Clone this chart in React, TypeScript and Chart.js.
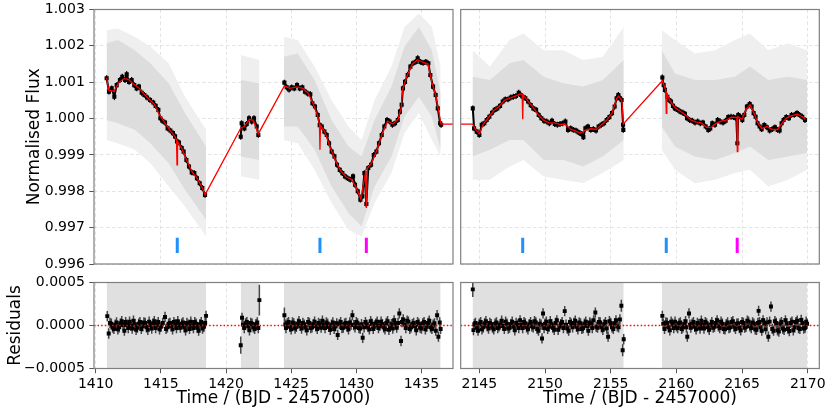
import React, { useEffect, useRef } from 'react';
import { Chart, registerables } from 'chart.js';

Chart.register(...registerables);

type Pt = [number, number];

// ---------- axes ----------
const fluxTicks = [0.996, 0.997, 0.998, 0.999, 1.0, 1.001, 1.002, 1.003];
const residTicks = [-0.0005, 0, 0.0005];
const timeTicksLeft = [1410, 1415, 1420, 1425, 1430, 1435];
const timeTicksRight = [2145, 2150, 2155, 2160, 2165, 2170];
const timeRangeLeft: Pt = [1409.87, 1437.42];
const timeRangeRight: Pt = [2143.58, 2170.88];
const fluxRange: Pt = [0.996, 1.003];
const residRange: Pt = [-0.0005, 0.0005];
const xTitle = 'Time / (BJD - 2457000)';
const fluxTitle = 'Normalised Flux';
const residTitle = 'Residuals';

// ---------- transit markers ----------
const blueTransits = [1416.26, 1427.21, 2148.3, 2159.23];
const magentaTransits = [1430.77, 2164.63];
const markerSpan: Pt = [0.9963, 0.99672];

// ---------- binned flux (black) ----------
const binnedLeft: Pt[] = [
  [1410.84, 1.00111], [1411.02, 1.00074], [1411.23, 1.00083], [1411.43, 1.0006], [1411.61, 1.00092],
  [1411.86, 1.00106], [1412.04, 1.00115], [1412.25, 1.00106], [1412.38, 1.00122], [1412.56, 1.00101],
  [1412.76, 1.00106], [1412.96, 1.00092], [1413.14, 1.00083], [1413.32, 1.00088], [1413.53, 1.00071],
  [1413.73, 1.00065], [1413.94, 1.00058], [1414.17, 1.00051], [1414.42, 1.00044], [1414.6, 1.00035],
  [1414.81, 1.00024], [1414.96, 1.00001], [1415.11, 0.99994], [1415.32, 0.99989], [1415.52, 0.99973],
  [1415.73, 0.99967], [1415.93, 0.9996], [1416.09, 0.99951], [1416.24, 0.99937], [1416.39, 0.99934],
  [1416.6, 0.99919], [1416.75, 0.99909], [1416.96, 0.99886], [1417.16, 0.99868], [1417.37, 0.99852],
  [1417.57, 0.9985], [1417.77, 0.99836], [1417.98, 0.99822], [1418.18, 0.99809], [1418.39, 0.9979],
  [1421.13, 0.9995], [1421.2, 0.99987], [1421.41, 0.99973], [1421.59, 0.99985], [1421.77, 1.00001],
  [1421.97, 0.99992], [1422.15, 1.00001], [1422.36, 0.99978], [1422.48, 0.99955],
  [1424.48, 1.00099], [1424.66, 1.00086], [1424.84, 1.0008], [1425.04, 1.00086], [1425.24, 1.00083],
  [1425.45, 1.00092], [1425.66, 1.00083], [1425.86, 1.00086], [1426.06, 1.00074], [1426.27, 1.00069],
  [1426.47, 1.00067], [1426.63, 1.00042], [1426.83, 1.00033], [1427.04, 1.0001], [1427.19, 0.99982],
  [1427.35, 0.99978], [1427.55, 0.99964], [1427.73, 0.99955], [1427.91, 0.99932], [1428.11, 0.99909],
  [1428.32, 0.99896], [1428.52, 0.99873], [1428.73, 0.99859], [1428.93, 0.9985], [1429.13, 0.99841],
  [1429.34, 0.99836], [1429.54, 0.99832], [1429.75, 0.99841], [1429.9, 0.99818], [1430.11, 0.998],
  [1430.31, 0.99777], [1430.46, 0.99786], [1430.62, 0.9985], [1430.77, 0.99765], [1430.92, 0.99864],
  [1431.13, 0.99873], [1431.34, 0.999], [1431.54, 0.99909], [1431.74, 0.99932], [1431.95, 0.99955],
  [1432.15, 0.99978], [1432.36, 0.99996], [1432.56, 0.99992], [1432.77, 0.99983], [1432.97, 0.99987],
  [1433.18, 0.99996], [1433.35, 1.00019], [1433.48, 1.00038], [1433.58, 1.00083], [1433.74, 1.00101],
  [1433.94, 1.0012], [1434.15, 1.00143], [1434.35, 1.00152], [1434.56, 1.00156], [1434.71, 1.00166],
  [1434.92, 1.00156], [1435.12, 1.00153], [1435.33, 1.00156], [1435.53, 1.00152], [1435.68, 1.0012],
  [1435.89, 1.00088], [1436.09, 1.00065], [1436.25, 1.00028], [1436.43, 0.99987], [1436.51, 0.99983],
];

const binnedRight: Pt[] = [
  [2144.5, 1.00028], [2144.6, 0.99973], [2144.8, 0.99964], [2145.0, 0.99955], [2145.18, 0.99983],
  [2145.38, 0.99987], [2145.56, 0.99996], [2145.76, 1.00005], [2145.97, 1.00016], [2146.17, 1.00024],
  [2146.37, 1.00028], [2146.58, 1.00035], [2146.78, 1.00047], [2146.98, 1.00053], [2147.18, 1.00053],
  [2147.39, 1.00058], [2147.59, 1.0006], [2147.79, 1.00062], [2148.0, 1.00071], [2148.15, 1.00065],
  [2148.3, 1.0006], [2148.5, 1.00056], [2148.71, 1.00047], [2148.91, 1.00037], [2149.11, 1.00028],
  [2149.32, 1.00024], [2149.52, 1.0001], [2149.72, 1.00001], [2149.92, 0.99994], [2150.13, 0.99992],
  [2150.33, 0.99987], [2150.53, 0.99994], [2150.74, 0.99985], [2150.94, 0.99983], [2151.14, 0.99985],
  [2151.34, 0.99987], [2151.55, 0.99992], [2151.75, 0.99969], [2151.95, 0.99973], [2152.16, 0.99969],
  [2152.36, 0.99967], [2152.56, 0.99962], [2152.76, 0.99958], [2152.92, 0.99949], [2153.07, 0.99973],
  [2153.27, 0.99978], [2153.48, 0.99969], [2153.68, 0.99971], [2153.88, 0.99967], [2154.08, 0.99978],
  [2154.29, 0.99983], [2154.49, 0.99987], [2154.69, 0.99996], [2154.9, 1.00004], [2155.1, 1.00015],
  [2155.3, 1.00033], [2155.45, 1.00056], [2155.58, 1.00065], [2155.71, 1.00056], [2155.83, 1.00051],
  [2155.94, 0.99983], [2155.96, 0.99969],
  [2158.93, 1.00113], [2159.03, 1.00092], [2159.13, 1.00079], [2159.31, 1.0006], [2159.44, 1.00051],
  [2159.59, 1.00047], [2159.74, 1.00035], [2159.89, 1.00028], [2160.1, 1.00024], [2160.3, 1.00019],
  [2160.5, 1.00016], [2160.65, 1.00013], [2160.81, 1.00001], [2161.01, 0.99996], [2161.21, 0.99994],
  [2161.42, 0.99989], [2161.62, 0.99992], [2161.82, 0.99987], [2162.02, 0.99989], [2162.23, 0.99978],
  [2162.43, 0.99969], [2162.58, 0.99973], [2162.73, 0.99987], [2162.94, 0.99983], [2163.14, 0.99996],
  [2163.34, 0.99992], [2163.55, 0.99989], [2163.75, 0.99994], [2163.95, 1.00004], [2164.16, 1.00005],
  [2164.36, 1.00004], [2164.56, 1.00001], [2164.64, 0.99932], [2164.71, 1.0001], [2164.87, 1.00005],
  [2165.02, 0.99996], [2165.17, 1.0001], [2165.37, 1.00033], [2165.58, 1.0004], [2165.73, 1.00033],
  [2165.88, 1.00015], [2166.03, 1.00005], [2166.18, 0.99987], [2166.34, 0.99978], [2166.49, 0.99971],
  [2166.69, 0.99982], [2166.89, 0.99976], [2167.1, 0.99967], [2167.3, 0.99971], [2167.5, 0.99976],
  [2167.71, 0.99969], [2167.86, 0.99967], [2168.01, 0.99987], [2168.16, 0.99996], [2168.37, 1.00004],
  [2168.57, 1.00001], [2168.77, 1.0001], [2168.97, 1.0001], [2169.18, 1.00015], [2169.38, 1.0001],
  [2169.58, 1.00005], [2169.79, 0.99996],
];
const binnedErr = 0.00008;

// ---------- model (red) ----------
const modelLeft: Pt[] = [
  [1410.84, 1.00111], [1411.0, 1.00078], [1411.4, 1.00075], [1411.8, 1.001], [1412.2, 1.0011],
  [1412.5, 1.00108], [1412.9, 1.00095], [1413.3, 1.00085], [1413.7, 1.00068], [1414.1, 1.00053],
  [1414.5, 1.0004], [1414.9, 1.0001], [1415.3, 0.99988], [1415.7, 0.99968], [1416.1, 0.9995],
  [1416.2, 0.9994], [1416.24, 0.99873], [1416.28, 0.99938], [1416.6, 0.99918], [1417.0, 0.99884],
  [1417.4, 0.99853], [1417.8, 0.99835], [1418.2, 0.99808], [1418.39, 0.9979],
  [1421.15, 0.99975], [1421.4, 0.99978], [1421.8, 0.99998], [1422.1, 0.99995], [1422.48, 0.99958],
  [1424.48, 1.0009], [1424.9, 1.00083], [1425.4, 1.00087], [1425.9, 1.00083], [1426.3, 1.0007],
  [1426.7, 1.0004], [1427.0, 1.0001], [1427.17, 0.99985], [1427.21, 0.99914], [1427.25, 0.99982],
  [1427.6, 0.99962], [1428.0, 0.9992], [1428.4, 0.99885], [1428.8, 0.99856], [1429.2, 0.9984],
  [1429.6, 0.99833], [1430.0, 0.9981], [1430.35, 0.99778], [1430.55, 0.9982], [1430.7, 0.9985],
  [1430.77, 0.99754], [1430.84, 0.99862], [1431.2, 0.9988], [1431.6, 0.99915], [1432.0, 0.9996],
  [1432.4, 0.99993], [1432.8, 0.99985], [1433.2, 0.99998], [1433.45, 1.0003], [1433.55, 1.0008],
  [1433.9, 1.00118], [1434.3, 1.0015], [1434.7, 1.00162], [1435.1, 1.00155], [1435.5, 1.0015],
  [1435.8, 1.001], [1436.1, 1.00063], [1436.5, 0.99985],
];
const modelRight: Pt[] = [
  [2144.5, 0.99985], [2144.7, 0.9997], [2145.0, 0.99958], [2145.3, 0.99985], [2145.7, 1.00003],
  [2146.1, 1.00022], [2146.5, 1.00033], [2146.9, 1.0005], [2147.3, 1.00056], [2147.7, 1.00061],
  [2148.1, 1.00068], [2148.26, 1.00067], [2148.3, 0.99998], [2148.34, 1.00064], [2148.7, 1.00048],
  [2149.1, 1.0003], [2149.5, 1.0001], [2149.9, 0.99995], [2150.3, 0.99988], [2150.7, 0.99988],
  [2151.1, 0.99984], [2151.5, 0.99985], [2151.9, 0.99972], [2152.3, 0.99966], [2152.7, 0.9996],
  [2153.1, 0.99968], [2153.5, 0.99972], [2153.9, 0.9997], [2154.3, 0.99983], [2154.7, 0.99996],
  [2155.1, 1.00015], [2155.45, 1.00055], [2155.6, 1.00062], [2155.85, 1.0005], [2155.96, 0.99985],
  [2158.93, 1.00104], [2159.15, 1.00082], [2159.19, 1.0008], [2159.23, 1.000145], [2159.27, 1.0007],
  [2159.5, 1.0005], [2159.9, 1.0003], [2160.3, 1.0002], [2160.7, 1.0001], [2161.1, 0.99996],
  [2161.5, 0.9999], [2161.9, 0.99988], [2162.3, 0.99976], [2162.6, 0.99975], [2163.0, 0.99986],
  [2163.4, 0.99993], [2163.8, 0.99996], [2164.2, 1.00004], [2164.6, 1.00003], [2164.64, 0.99909],
  [2164.68, 1.00005], [2165.0, 0.99998], [2165.3, 1.00025], [2165.6, 1.00038], [2165.9, 1.00015],
  [2166.2, 0.99988], [2166.5, 0.99973], [2166.9, 0.99978], [2167.3, 0.9997], [2167.7, 0.9997],
  [2168.0, 0.99985], [2168.4, 1.00002], [2168.8, 1.00008], [2169.2, 1.00012], [2169.6, 1.00005],
  [2169.8, 0.99998],
];

// ---------- unbinned scatter envelope (grey): [t, outerLo, innerLo, innerHi, outerHi] ----------
const cloudLeft1 = [
  [1410.84, 0.99941, 0.99996, 1.00207, 1.00243],
  [1411.7, 0.99932, 0.99987, 1.00216, 1.00248],
  [1413.0, 0.99914, 0.99969, 1.00188, 1.00225],
  [1414.2, 0.99877, 0.99932, 1.00152, 1.00198],
  [1415.6, 0.99813, 0.99877, 1.00097, 1.00152],
  [1416.85, 0.99758, 0.99804, 1.00015, 1.0006],
  [1418.47, 0.99676, 0.99722, 0.99923, 0.99969],
];
const cloudLeft2 = [
  [1421.13, 0.99841, 0.99896, 1.00106, 1.00175],
  [1422.56, 0.99832, 0.99886, 1.00097, 1.00161],
];
const cloudLeft3 = [
  [1424.45, 0.99941, 0.99978, 1.0017, 1.00225],
  [1425.5, 0.99932, 0.99978, 1.00179, 1.00216],
  [1426.8, 0.99859, 0.99914, 1.00106, 1.00143],
  [1428.1, 0.99768, 0.99813, 0.99996, 1.00051],
  [1429.4, 0.99694, 0.9974, 0.99923, 0.99978],
  [1430.4, 0.99676, 0.99703, 0.99896, 0.99941],
  [1431.4, 0.99768, 0.99813, 0.99996, 1.00051],
  [1432.7, 0.9985, 0.99896, 1.00088, 1.00143],
  [1433.7, 0.9996, 1.00005, 1.00198, 1.00252],
  [1434.8, 1.00015, 1.0006, 1.00252, 1.00289],
  [1435.8, 0.99941, 1.00005, 1.00188, 1.00252],
  [1436.47, 0.99896, 0.99914, 1.00069, 1.00143],
];
const cloudRight1 = [
  [2144.48, 0.99832, 0.99896, 1.00115, 1.00188],
  [2145.8, 0.99832, 0.99914, 1.00106, 1.00143],
  [2147.3, 0.99868, 0.99941, 1.00152, 1.00216],
  [2148.35, 0.99886, 0.99941, 1.00161, 1.00234],
  [2149.9, 0.99841, 0.99886, 1.00115, 1.00188],
  [2151.4, 0.99832, 0.99886, 1.00097, 1.00188],
  [2152.9, 0.99822, 0.99868, 1.00088, 1.00161],
  [2154.4, 0.9985, 0.99896, 1.00106, 1.0017],
  [2155.99, 0.99886, 0.99941, 1.00161, 1.00252],
];
const cloudRight2 = [
  [2158.88, 0.99914, 0.99978, 1.00188, 1.00243],
  [2159.9, 0.99859, 0.99923, 1.00124, 1.00216],
  [2161.4, 0.99822, 0.99896, 1.00106, 1.00179],
  [2162.95, 0.99832, 0.99886, 1.00106, 1.00188],
  [2164.45, 0.9985, 0.99905, 1.00115, 1.00216],
  [2165.6, 0.99859, 0.99923, 1.00143, 1.00234],
  [2167.0, 0.99813, 0.99886, 1.00106, 1.00188],
  [2168.5, 0.99832, 0.99896, 1.00115, 1.00207],
  [2169.95, 0.99859, 0.99905, 1.00106, 1.00188],
];
const residCloudLeft: Pt[] = [[1410.84, 1418.47], [1421.13, 1422.56], [1424.45, 1436.47]];
const residCloudRight: Pt[] = [[2144.48, 2155.99], [2158.88, 2169.95]];

// ---------- binned residuals: [t, residual ppm, error ppm] ----------
const residLeft: [number, number, number][] = [
  [1410.89, 109, 60], [1411.0, -93, 60], [1411.1, 30, 60], [1411.2, 20, 60], [1411.3, -25, 60], [1411.4, -40, 60], [1411.5, 10, 60], [1411.6, 35, 60],
  [1411.7, -45, 60], [1411.8, -20, 60], [1411.9, 25, 60], [1412.0, 50, 60], [1412.1, 5, 60], [1412.2, -60, 60], [1412.3, 40, 60], [1412.4, 10, 60], [1412.5, -30, 60], [1412.6, 45, 60],
  [1412.7, 0, 60], [1412.8, -35, 60], [1412.9, 55, 60], [1413.0, 15, 60], [1413.1, -50, 60], [1413.2, -25, 60], [1413.3, 20, 60], [1413.4, 40, 60], [1413.5, -40, 60], [1413.6, -10, 60],
  [1413.7, 35, 60], [1413.8, 30, 60], [1413.9, -20, 60], [1414.0, -50, 60], [1414.1, 45, 60], [1414.2, 5, 60], [1414.3, -35, 60], [1414.4, 25, 60], [1414.5, 50, 60], [1414.6, -30, 60],
  [1414.7, 10, 60], [1414.8, 40, 60], [1414.9, -45, 60], [1415.0, -15, 60], [1415.15, 30, 60], [1415.32, 100, 60], [1415.4, -40, 60], [1415.5, -20, 60], [1415.6, 20, 60], [1415.7, 30, 60],
  [1415.8, -10, 60], [1415.9, -45, 60], [1416.0, 40, 60], [1416.1, 15, 60], [1416.2, -30, 60], [1416.3, 50, 60], [1416.4, 5, 60], [1416.5, -25, 60], [1416.6, 20, 60], [1416.7, 35, 60],
  [1416.8, -20, 60], [1416.9, -55, 60], [1417.0, 30, 60], [1417.1, 10, 60], [1417.2, -40, 60], [1417.3, 45, 60], [1417.4, 0, 60], [1417.5, -30, 60], [1417.6, 40, 60], [1417.7, 20, 60],
  [1417.8, -25, 60], [1417.9, -60, 60], [1418.0, 15, 60], [1418.1, 40, 60], [1418.2, -35, 60], [1418.3, -15, 60], [1418.4, 30, 60], [1418.47, 112, 60],
  [1421.13, -229, 100], [1421.23, 89, 60], [1421.3, 10, 60], [1421.4, -30, 60], [1421.5, 25, 60], [1421.6, 40, 60], [1421.7, -10, 60], [1421.8, -55, 60], [1421.9, 30, 60],
  [1422.0, 20, 60], [1422.1, -20, 60], [1422.2, -40, 60], [1422.3, 15, 60], [1422.4, 35, 60], [1422.48, -30, 60], [1422.56, 295, 180],
  [1424.48, 120, 90], [1424.55, 10, 60], [1424.6, -30, 60], [1424.7, 25, 60], [1424.8, 40, 60], [1424.9, -15, 60], [1425.0, -45, 60], [1425.1, 35, 60], [1425.2, 25, 60],
  [1425.3, -35, 60], [1425.4, -15, 60], [1425.5, 20, 60], [1425.6, 50, 60], [1425.7, -5, 60], [1425.8, -35, 60], [1425.9, 30, 60], [1426.0, 10, 60], [1426.1, -20, 60], [1426.2, -55, 60],
  [1426.3, 40, 60], [1426.4, 30, 60], [1426.5, -30, 60], [1426.6, -20, 60], [1426.7, 15, 60], [1426.8, 45, 60], [1426.9, -10, 60], [1427.0, -40, 60], [1427.1, 30, 60], [1427.2, 15, 60],
  [1427.3, -25, 60], [1427.4, 55, 60], [1427.5, 5, 60], [1427.6, -30, 60], [1427.7, 35, 60], [1427.8, 20, 60], [1427.9, -15, 60], [1428.0, -50, 60], [1428.1, 10, 60], [1428.2, 35, 60],
  [1428.3, -40, 60], [1428.4, -10, 60], [1428.5, 25, 60], [1428.57, -110, 60], [1428.7, 15, 60], [1428.8, 40, 60], [1428.9, -30, 60], [1429.0, -25, 60], [1429.1, 20, 60], [1429.2, 30, 60],
  [1429.3, -15, 60], [1429.4, -45, 60], [1429.5, 35, 60], [1429.6, 10, 60], [1429.7, 120, 60], [1429.8, 5, 60], [1429.9, -20, 60], [1430.0, 40, 60], [1430.1, 25, 60], [1430.2, -30, 60],
  [1430.3, -35, 60], [1430.4, 15, 60], [1430.49, -143, 60], [1430.6, -20, 60], [1430.7, 40, 60], [1430.8, 10, 60], [1430.9, -15, 60], [1431.0, -45, 60], [1431.1, 50, 60], [1431.2, 20, 60],
  [1431.3, -40, 60], [1431.4, 0, 60], [1431.5, 20, 60], [1431.6, 45, 60], [1431.7, -30, 60], [1431.8, -5, 60], [1431.9, 45, 60], [1432.0, 15, 60], [1432.1, -20, 60], [1432.2, -45, 60],
  [1432.3, 30, 60], [1432.4, 50, 60], [1432.5, -50, 60], [1432.6, -10, 60], [1432.7, 15, 60], [1432.8, -35, 60], [1432.9, 60, 60], [1433.0, 20, 60], [1433.1, -25, 60], [1433.2, 30, 60],
  [1433.3, 140, 60], [1433.43, -180, 60], [1433.5, 40, 60], [1433.6, 70, 60], [1433.7, 10, 60], [1433.8, -30, 60], [1433.9, 55, 60], [1434.0, 45, 60], [1434.1, -40, 60], [1434.2, -20, 60],
  [1434.3, 15, 60], [1434.4, 30, 60], [1434.5, -10, 60], [1434.6, -55, 60], [1434.7, 40, 60], [1434.8, 20, 60], [1434.9, -25, 60], [1435.0, -35, 60], [1435.1, 25, 60], [1435.2, 40, 60],
  [1435.3, -45, 60], [1435.4, -15, 60], [1435.5, 30, 60], [1435.6, 55, 60], [1435.7, -20, 60], [1435.8, -40, 60], [1435.9, 10, 60], [1436.0, 25, 60], [1436.1, -60, 60], [1436.2, 120, 60],
  [1436.3, -130, 60], [1436.4, 35, 60], [1436.47, -40, 60],
];
const residRight: [number, number, number][] = [
  [2144.5, 420, 90], [2144.55, -54, 60], [2144.62, 15, 60], [2144.7, 30, 60], [2144.8, -25, 60], [2144.9, -60, 60], [2145.0, 20, 60], [2145.1, 40, 60],
  [2145.2, -45, 60], [2145.3, -20, 60], [2145.4, 25, 60], [2145.5, 50, 60], [2145.6, -10, 60], [2145.7, -35, 60], [2145.8, 30, 60], [2145.9, 15, 60], [2146.0, -25, 60], [2146.1, -45, 60],
  [2146.2, 20, 60], [2146.3, 35, 60], [2146.4, -30, 60], [2146.5, -10, 60], [2146.6, 10, 60], [2146.7, 55, 60], [2146.8, -5, 60], [2146.9, -40, 60], [2147.0, 45, 60], [2147.1, 20, 60],
  [2147.2, -35, 60], [2147.3, -25, 60], [2147.4, 15, 60], [2147.5, 45, 60], [2147.6, -15, 60], [2147.7, -55, 60], [2147.8, 30, 60], [2147.9, 10, 60], [2148.0, -30, 60], [2148.1, 60, 60],
  [2148.2, 5, 60], [2148.3, -30, 60], [2148.4, 40, 60], [2148.5, 25, 60], [2148.6, -20, 60], [2148.7, -45, 60], [2148.8, 15, 60], [2148.9, 40, 60], [2149.0, -10, 60], [2149.1, -20, 60],
  [2149.2, 50, 60], [2149.3, 35, 60], [2149.4, -40, 60], [2149.5, -60, 60], [2149.6, 20, 60], [2149.7, 10, 60], [2149.77, -150, 60], [2149.85, 140, 60], [2149.93, -30, 60], [2150.0, 20, 60],
  [2150.1, 45, 60], [2150.2, -40, 60], [2150.3, -15, 60], [2150.4, 50, 60], [2150.5, 15, 60], [2150.6, -25, 60], [2150.7, -50, 60], [2150.8, 30, 60], [2150.9, 60, 60], [2151.0, -50, 60],
  [2151.1, -10, 60], [2151.2, 15, 60], [2151.3, 40, 60], [2151.4, -30, 60], [2151.5, 167, 60], [2151.6, 10, 60], [2151.7, -35, 60], [2151.8, -60, 60], [2151.9, 40, 60], [2152.0, 20, 60],
  [2152.1, -20, 60], [2152.2, 30, 60], [2152.3, 55, 60], [2152.4, -15, 60], [2152.5, -45, 60], [2152.6, 35, 60], [2152.7, 25, 60], [2152.8, -40, 60], [2152.9, -30, 60], [2153.0, 20, 60],
  [2153.1, 45, 60], [2153.2, -5, 60], [2153.3, -60, 60], [2153.4, 35, 60], [2153.5, 20, 60], [2153.6, -30, 60], [2153.7, 60, 60], [2153.83, 150, 60], [2153.9, -15, 60], [2154.0, -25, 60],
  [2154.1, 40, 60], [2154.2, 35, 60], [2154.3, -20, 60], [2154.4, -50, 60], [2154.5, 15, 60], [2154.6, 40, 60], [2154.7, -35, 60], [2154.8, -130, 60], [2154.9, 50, 60], [2155.0, 30, 60],
  [2155.1, -20, 60], [2155.2, -40, 60], [2155.3, 25, 60], [2155.4, 60, 60], [2155.5, -10, 60], [2155.6, -20, 60], [2155.7, 70, 60], [2155.81, 230, 70], [2155.91, -287, 70], [2155.99, -160, 60],
  [2158.93, 112, 60], [2159.0, 20, 60], [2159.1, -40, 60], [2159.2, 35, 60], [2159.3, 30, 60], [2159.4, -20, 60], [2159.5, -55, 60], [2159.6, 45, 60], [2159.7, 20, 60], [2159.8, -30, 60],
  [2159.9, 45, 60], [2160.0, -10, 60], [2160.1, -30, 60], [2160.2, 25, 60], [2160.3, 35, 60], [2160.4, -40, 60], [2160.5, -20, 60], [2160.6, 15, 60], [2160.7, 50, 60], [2160.76, -20, 60],
  [2160.83, -130, 60], [2160.96, 140, 60], [2161.03, 10, 60], [2161.1, -25, 60], [2161.2, 20, 60], [2161.3, 40, 60], [2161.4, -15, 60], [2161.5, -45, 60], [2161.6, 30, 60], [2161.7, 15, 60],
  [2161.8, -35, 60], [2161.9, 55, 60], [2162.0, 5, 60], [2162.1, -35, 60], [2162.2, 40, 60], [2162.3, 25, 60], [2162.4, -20, 60], [2162.5, -50, 60], [2162.6, 10, 60], [2162.7, 40, 60],
  [2162.8, -25, 60], [2162.9, -15, 60], [2163.0, 30, 60], [2163.1, 60, 60], [2163.2, -10, 60], [2163.3, -30, 60], [2163.4, 45, 60], [2163.5, 20, 60], [2163.6, -40, 60], [2163.7, -45, 60],
  [2163.8, 15, 60], [2163.9, 35, 60], [2164.0, -30, 60], [2164.1, -20, 60], [2164.2, 40, 60], [2164.3, 50, 60], [2164.4, -15, 60], [2164.5, -40, 60], [2164.6, 20, 60], [2164.7, 25, 60],
  [2164.8, -30, 60], [2164.9, -55, 60], [2165.0, 40, 60], [2165.1, 30, 60], [2165.2, -25, 60], [2165.3, -15, 60], [2165.4, 55, 60], [2165.5, 45, 60], [2165.6, -10, 60], [2165.7, -30, 60],
  [2165.8, 35, 60], [2165.9, 20, 60], [2166.0, -45, 60], [2166.1, -50, 60], [2166.2, 30, 60], [2166.26, 170, 60], [2166.33, 40, 60], [2166.4, -20, 60], [2166.5, -60, 60], [2166.6, 60, 60],
  [2166.7, 20, 60], [2166.8, -45, 60], [2166.9, 35, 60], [2167.0, -130, 60], [2167.1, 45, 60], [2167.2, 220, 60], [2167.3, -40, 60], [2167.4, -60, 60], [2167.5, 50, 60], [2167.6, 30, 60],
  [2167.7, -55, 60], [2167.8, -70, 60], [2167.9, 20, 60], [2168.0, 40, 60], [2168.1, -35, 60], [2168.2, -50, 60], [2168.3, 60, 60], [2168.4, 25, 60], [2168.5, -40, 60], [2168.6, -65, 60],
  [2168.7, 30, 60], [2168.8, 45, 60], [2168.9, -55, 60], [2169.0, -20, 60], [2169.1, 40, 60], [2169.2, 55, 60], [2169.3, -30, 60], [2169.4, -40, 60], [2169.5, 65, 60], [2169.6, 30, 60],
  [2169.7, -35, 60], [2169.8, -25, 60], [2169.88, 45, 60], [2169.95, 20, 60],
];
const PPM = 1e-6;

// ---------- styling ----------
const FONT = 'DejaVu Sans';
const CLOUD_OUTER = '#efefef';
const CLOUD_INNER = '#dddddd';
const RESID_CLOUD = '#e0e0e0';
const GRID = '#dddddd';
const FRAME = '#7f7f7f';

Chart.defaults.font.family = FONT;

const errorBarPlugin = {
  id: 'errorBars',
  beforeDatasetDraw(chart: any, args: any) {
    const ds: any = chart.data.datasets[args.index];
    if (!ds.errors) return;
    const yScale = chart.scales.y;
    const a = chart.chartArea;
    const ctx = chart.ctx;
    ctx.save();
    ctx.beginPath();
    ctx.rect(a.left, a.top, a.right - a.left, a.bottom - a.top);
    ctx.clip();
    ctx.strokeStyle = ds.errorColor || '#000';
    ctx.lineWidth = ds.errorWidth || 1.2;
    ctx.beginPath();
    args.meta.data.forEach((el: any, i: number) => {
      const p = ds.data[i];
      const e = ds.errors[i];
      if (!el || !isFinite(el.x)) return;
      ctx.moveTo(el.x, yScale.getPixelForValue(p.y - e));
      ctx.lineTo(el.x, yScale.getPixelForValue(p.y + e));
    });
    ctx.stroke();
    ctx.restore();
  },
};

const framePlugin = {
  id: 'frame',
  afterDraw(chart: any) {
    const a = chart.chartArea;
    const ctx = chart.ctx;
    ctx.save();
    ctx.strokeStyle = FRAME;
    ctx.lineWidth = 1.2;
    ctx.strokeRect(a.left, a.top, a.right - a.left, a.bottom - a.top);
    ctx.restore();
  },
};

const xy = (arr: Pt[]) => arr.map(([x, y]) => ({ x, y }));

function cloudDatasets(chunks: number[][][]) {
  const out: any[] = [];
  const edge = { borderColor: 'transparent', borderWidth: 0, pointRadius: 0, clip: 0 };
  for (const c of chunks) {
    const col = (k: number) => c.map((r) => ({ x: r[0], y: r[k] }));
    out.push({ ...edge, data: col(1), fill: false });
    out.push({ ...edge, data: col(4), fill: '-1', backgroundColor: CLOUD_OUTER });
    out.push({ ...edge, data: col(2), fill: false });
    out.push({ ...edge, data: col(3), fill: '-1', backgroundColor: CLOUD_INNER });
  }
  return out;
}

function residCloudDatasets(spans: Pt[]) {
  const out: any[] = [];
  const edge = { borderColor: 'transparent', borderWidth: 0, pointRadius: 0, clip: 0 };
  for (const [a, b] of spans) {
    out.push({ ...edge, data: [{ x: a, y: -0.001 }, { x: b, y: -0.001 }], fill: false });
    out.push({ ...edge, data: [{ x: a, y: 0.001 }, { x: b, y: 0.001 }], fill: '-1', backgroundColor: RESID_CLOUD });
  }
  return out;
}

function markerDatasets(range: Pt) {
  const out: any[] = [];
  const add = (ts: number[], color: string) => {
    ts.filter((t) => t >= range[0] && t <= range[1]).forEach((t) =>
      out.push({
        data: [{ x: t, y: markerSpan[0] }, { x: t, y: markerSpan[1] }],
        borderColor: color,
        borderWidth: 3,
        borderCapStyle: 'butt',
        pointRadius: 0,
        fill: false,
      })
    );
  };
  add(blueTransits, '#1e90ff');
  add(magentaTransits, '#ff00ff');
  return out;
}

const modelAll = modelLeft.concat(modelRight);

function topDatasets(cloud: number[][][], binned: Pt[], range: Pt) {
  return [
    ...cloudDatasets(cloud),
    {
      data: xy(binned),
      showLine: true,
      borderColor: '#000',
      borderWidth: 2,
      segment: {
        borderColor: (c: any) => (c.p1.parsed.x - c.p0.parsed.x > 0.6 ? 'transparent' : undefined),
      },
      pointRadius: 2.9,
      pointStyle: 'rect',
      pointBackgroundColor: '#000',
      pointBorderWidth: 0,
      fill: false,
      errors: binned.map(() => binnedErr),
      errorColor: '#000',
      errorWidth: 1.3,
    },
    {
      data: xy(modelAll),
      borderColor: '#ff0000',
      borderWidth: 1.3,
      pointRadius: 0,
      fill: false,
    },
    ...markerDatasets(range),
  ];
}

function residDatasets(spans: Pt[], resid: [number, number, number][], range: Pt) {
  return [
    ...residCloudDatasets(spans),
    {
      data: resid.map(([t, r]) => ({ x: t, y: r * PPM })),
      showLine: false,
      pointRadius: 2.8,
      pointStyle: 'rect',
      pointBackgroundColor: '#000',
      pointBorderWidth: 0,
      errors: resid.map((r) => r[2] * PPM),
      errorColor: 'rgba(40,40,40,0.85)',
      errorWidth: 1.5,
    },
    {
      data: [{ x: range[0], y: 0 }, { x: range[1], y: 0 }],
      borderColor: '#ff0000',
      borderWidth: 1.3,
      borderDash: [1.4, 2.2],
      pointRadius: 0,
      fill: false,
    },
  ];
}

type PanelCfg = {
  padding: { left: number; top: number; right: number; bottom: number };
  xRange: Pt;
  xTicks: number[];
  showX: boolean;
  yRange: Pt;
  yTicks: number[];
  showY: boolean;
  yFmt: (v: number) => string;
  yTitle?: string;
  yTitlePad?: number;
  datasets: any[];
};

const zeroPad = (s: any) => {
  s.paddingLeft = 0;
  s.paddingRight = 0;
  s.paddingTop = 0;
  s.paddingBottom = 0;
};

function makeChart(canvas: HTMLCanvasElement, cfg: PanelCfg) {
  const n = cfg.datasets.length;
  const datasets = cfg.datasets.map((d, i) => ({ ...d, order: n - i }));
  return new Chart(canvas, {
    type: 'line',
    data: { datasets },
    options: {
      animation: false,
      responsive: false,
      events: [],
      layout: { padding: cfg.padding },
      elements: { point: { radius: 0 }, line: { tension: 0 } },
      plugins: { legend: { display: false }, tooltip: { enabled: false } },
      scales: {
        x: {
          type: 'linear',
          min: cfg.xRange[0],
          max: cfg.xRange[1],
          afterBuildTicks: (s: any) => {
            s.ticks = cfg.xTicks.map((v) => ({ value: v }));
          },
          afterFit: (s: any) => {
            s.height = cfg.showX ? 45.5 : 0;
            zeroPad(s);
          },
          grid: {
            display: true,
            color: GRID,
            lineWidth: 0.8,
            drawTicks: cfg.showX,
            tickLength: 4.7,
            tickColor: '#555',
            tickWidth: 1,
            tickBorderDash: [],
          },
          border: { display: false, dash: [3.5, 2.5] },
          ticks: {
            display: cfg.showX,
            autoSkip: false,
            maxRotation: 0,
            padding: 2.5,
            color: '#000',
            font: { family: FONT, size: 14 },
            callback: (v: any) => String(v),
          },
          title: {
            display: cfg.showX,
            text: xTitle,
            color: '#000',
            font: { family: FONT, size: 17 },
            padding: { top: 0, bottom: 5 },
          },
        },
        y: {
          type: 'linear',
          position: 'left',
          min: cfg.yRange[0],
          max: cfg.yRange[1],
          afterBuildTicks: (s: any) => {
            s.ticks = cfg.yTicks.map((v) => ({ value: v }));
          },
          afterFit: (s: any) => {
            s.width = cfg.showY ? 94 : 0;
            zeroPad(s);
          },
          grid: {
            display: true,
            color: GRID,
            lineWidth: 0.8,
            drawTicks: cfg.showY,
            tickLength: 4.7,
            tickColor: '#555',
            tickWidth: 1,
            tickBorderDash: [],
          },
          border: { display: false, dash: [3.5, 2.5] },
          ticks: {
            display: cfg.showY,
            autoSkip: false,
            padding: 4.5,
            color: '#000',
            font: { family: FONT, size: 14 },
            callback: (v: any) => cfg.yFmt(Number(v)),
          },
          title: {
            display: !!cfg.yTitle,
            text: cfg.yTitle || '',
            color: '#000',
            font: { family: FONT, size: 17 },
            padding: { top: cfg.yTitlePad || 0, bottom: 0 },
          },
        },
      },
    } as any,
    plugins: [errorBarPlugin, framePlugin],
  } as any);
}

const fmtFlux = (v: number) => v.toFixed(3);
const fmtResid = (v: number) => (Math.abs(v) < 1e-12 ? '0.0000' : v.toFixed(4).replace('-', '\u2212'));

export default function App() {
  const r0 = useRef<HTMLCanvasElement>(null);
  const r1 = useRef<HTMLCanvasElement>(null);
  const r2 = useRef<HTMLCanvasElement>(null);
  const r3 = useRef<HTMLCanvasElement>(null);

  useEffect(() => {
    const charts = [
      makeChart(r0.current!, {
        padding: { left: 0, top: 9.5, right: 377, bottom: 150 },
        xRange: timeRangeLeft,
        xTicks: timeTicksLeft,
        showX: false,
        yRange: fluxRange,
        yTicks: fluxTicks,
        showY: true,
        yFmt: fmtFlux,
        yTitle: fluxTitle,
        yTitlePad: 24,
        datasets: topDatasets([cloudLeft1, cloudLeft2, cloudLeft3], binnedLeft, timeRangeLeft),
      }),
      makeChart(r1.current!, {
        padding: { left: 460.7, top: 9.5, right: 10.7, bottom: 150 },
        xRange: timeRangeRight,
        xTicks: timeTicksRight,
        showX: false,
        yRange: fluxRange,
        yTicks: fluxTicks,
        showY: false,
        yFmt: fmtFlux,
        datasets: topDatasets([cloudRight1, cloudRight2], binnedRight, timeRangeRight),
      }),
      makeChart(r2.current!, {
        padding: { left: 0, top: 282.5, right: 377, bottom: 0 },
        xRange: timeRangeLeft,
        xTicks: timeTicksLeft,
        showX: true,
        yRange: residRange,
        yTicks: residTicks,
        showY: true,
        yFmt: fmtResid,
        yTitle: residTitle,
        yTitlePad: 5,
        datasets: residDatasets(residCloudLeft, residLeft, timeRangeLeft),
      }),
      makeChart(r3.current!, {
        padding: { left: 460.7, top: 282.5, right: 10.7, bottom: 0 },
        xRange: timeRangeRight,
        xTicks: timeTicksRight,
        showX: true,
        yRange: residRange,
        yTicks: residTicks,
        showY: false,
        yFmt: fmtResid,
        datasets: residDatasets(residCloudRight, residRight, timeRangeRight),
      }),
    ];
    return () => charts.forEach((c) => c.destroy());
  }, []);

  const cs: React.CSSProperties = { position: 'absolute', left: 0, top: 0 };
  return (
    <div style={{ position: 'absolute', left: 0, top: 0, width: 830, height: 414, background: '#ffffff' }}>
      <canvas ref={r0} width={830} height={414} style={cs} />
      <canvas ref={r1} width={830} height={414} style={cs} />
      <canvas ref={r2} width={830} height={414} style={cs} />
      <canvas ref={r3} width={830} height={414} style={cs} />
    </div>
  );
}
